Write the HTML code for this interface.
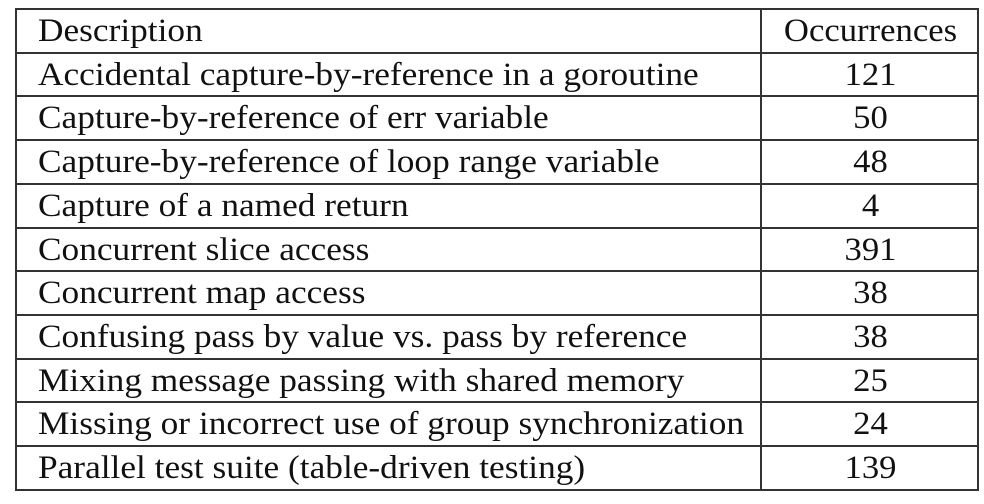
<!DOCTYPE html>
<html><head><meta charset="utf-8"><style>
html,body{margin:0;padding:0;background:#fff;}
body{width:984px;height:504px;position:relative;overflow:hidden;font-family:"Liberation Serif",serif;color:#111;}
.hl{position:absolute;left:15px;width:964px;height:2px;background:#333;}
.vl{position:absolute;top:9px;height:482px;width:2px;background:#333;}
.c1,.c2{position:absolute;font-size:33px;line-height:44px;height:44px;white-space:nowrap;}
.c1{left:38px;transform-origin:0 50%;transform:scaleX(1.07);}
.c2{left:763px;width:215px;text-align:center;transform:scaleX(1.05);}
</style></head><body>
<div id="t"></div>
<script>
const descriptions=["Description","Accidental capture-by-reference in a goroutine","Capture-by-reference of err variable","Capture-by-reference of loop range variable","Capture of a named return","Concurrent slice access","Concurrent map access","Confusing pass by value vs. pass by reference","Mixing message passing with shared memory","Missing or incorrect use of group synchronization","Parallel test suite (table-driven testing)"];
const counts=["Occurrences","121","50","48","4","391","38","38","25","24","139"];
const t=document.getElementById('t');
const top0=9,rh=43.7;
for(let i=0;i<=descriptions.length;i++){
  const l=document.createElement('div');l.className='hl';l.style.top=Math.round(top0+i*rh-1)+'px';
  
  
  t.appendChild(l);
}
[15,760,977].forEach(x=>{
  const v=document.createElement('div');v.className='vl';v.style.left=x+'px';
  
  
  t.appendChild(v);
});
descriptions.forEach((d,i)=>{
  const a=document.createElement('div');a.className='c1';a.textContent=d;a.style.top=(top0+i*rh)+'px';
  
  
  t.appendChild(a);
  const b=document.createElement('div');b.className='c2';b.textContent=counts[i];b.style.top=(top0+i*rh)+'px';
  
  
  t.appendChild(b);
});
</script>
</body></html>
